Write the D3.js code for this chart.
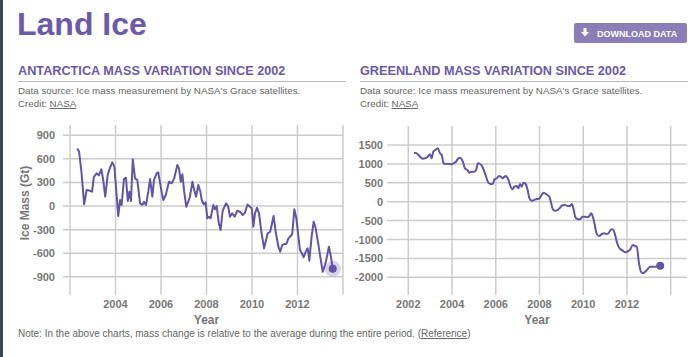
<!DOCTYPE html>
<html>
<head>
<meta charset="utf-8">
<script src="https://cdn.jsdelivr.net/npm/d3@7"></script>
<style>
  html, body { margin: 0; padding: 0; background: #fff; }
  svg { display: block; font-family: "Liberation Sans", Arial, Helvetica, sans-serif; }
</style>
</head>
<body>
<svg id="chart" width="700" height="357"></svg>
<script>
// ---------- DATA ----------
const antarcticaYears = [2002.32,2002.40,2002.51,2002.62,2002.73,2002.88,2002.97,2003.05,2003.17,2003.27,2003.38,2003.46,2003.55,2003.66,2003.76,2003.86,2003.95,2004.01,2004.12,2004.20,2004.27,2004.37,2004.46,2004.54,2004.61,2004.68,2004.76,2004.86,2004.96,2005.08,2005.18,2005.25,2005.34,2005.44,2005.52,2005.62,2005.69,2005.81,2005.88,2006.00,2006.10,2006.21,2006.35,2006.47,2006.58,2006.72,2006.79,2006.87,2006.94,2007.02,2007.11,2007.20,2007.27,2007.38,2007.46,2007.54,2007.64,2007.73,2007.79,2007.88,2007.96,2008.04,2008.11,2008.18,2008.30,2008.37,2008.45,2008.54,2008.62,2008.71,2008.86,2008.95,2009.03,2009.13,2009.24,2009.35,2009.47,2009.59,2009.69,2009.80,2009.91,2009.99,2010.06,2010.13,2010.22,2010.31,2010.40,2010.53,2010.62,2010.69,2010.80,2010.95,2011.04,2011.16,2011.24,2011.33,2011.42,2011.51,2011.60,2011.70,2011.77,2011.86,2011.95,2012.04,2012.11,2012.18,2012.27,2012.36,2012.45,2012.52,2012.62,2012.71,2012.80,2012.91,2013.00,2013.11,2013.21,2013.30,2013.38,2013.47,2013.55];
const antarcticaMass = [730,690,416,22,203,194,182,372,416,390,466,330,118,403,487,555,500,289,-127,76,13,343,360,64,182,64,594,352,330,34,13,55,13,182,343,118,330,416,428,225,76,140,309,289,352,521,479,309,403,182,-9,55,118,309,203,118,267,182,76,22,47,-156,-136,-156,13,-42,0,-220,-305,-60,34,0,-136,-93,-136,-60,-72,-114,-85,19,-9,-29,-263,-93,-22,-93,-305,-538,-432,-347,-327,-127,-327,-517,-581,-496,-483,-483,-411,-381,-356,-42,-156,-390,-559,-594,-652,-581,-538,-695,-390,-200,-283,-474,-644,-835,-750,-636,-517,-644,-797];

const greenlandYears = [2002.26,2002.38,2002.54,2002.66,2002.76,2002.87,2002.99,2003.07,2003.14,2003.27,2003.35,2003.45,2003.53,2003.60,2003.71,2003.83,2003.94,2004.06,2004.18,2004.29,2004.37,2004.44,2004.52,2004.59,2004.70,2004.79,2004.90,2005.01,2005.10,2005.18,2005.28,2005.39,2005.46,2005.56,2005.66,2005.77,2005.86,2005.94,2006.05,2006.15,2006.24,2006.32,2006.43,2006.50,2006.58,2006.65,2006.76,2006.85,2006.96,2007.03,2007.11,2007.19,2007.26,2007.37,2007.45,2007.54,2007.65,2007.75,2007.88,2007.98,2008.07,2008.18,2008.29,2008.38,2008.45,2008.53,2008.61,2008.71,2008.82,2008.94,2009.05,2009.17,2009.28,2009.40,2009.48,2009.55,2009.63,2009.73,2009.86,2009.96,2010.09,2010.19,2010.28,2010.36,2010.44,2010.51,2010.62,2010.73,2010.85,2010.96,2011.05,2011.15,2011.25,2011.34,2011.43,2011.51,2011.58,2011.69,2011.81,2011.92,2012.02,2012.15,2012.27,2012.38,2012.45,2012.54,2012.64,2012.73,2012.83,2012.94,2013.06,2013.17,2013.29,2013.40,2013.52];
const greenlandMass = [1296,1280,1190,1138,1148,1175,1254,1148,1323,1386,1413,1280,1237,1032,997,1005,989,1016,1058,1148,1164,1122,1016,884,839,767,794,794,839,1016,997,926,820,661,503,468,468,593,619,680,661,619,680,661,574,442,328,397,415,354,468,397,503,468,328,90,26,45,71,79,151,238,204,170,132,-26,-201,-238,-220,-159,-95,-87,-114,-114,-61,-175,-397,-458,-466,-397,-397,-413,-378,-307,-397,-571,-854,-907,-854,-836,-854,-836,-749,-730,-820,-1000,-1146,-1251,-1296,-1339,-1323,-1259,-1146,-1172,-1190,-1587,-1852,-1894,-1852,-1788,-1720,-1720,-1720,-1702,-1693];

const antarcticaYTicks = [900, 600, 300, 0, -300, -600, -900];
const greenlandYTicks = [1500, 1000, 500, 0, -500, -1000, -1500, -2000];
const antarcticaXTicks = [2002, 2004, 2006, 2008, 2010, 2012, 2014];
const antarcticaXLabels = [2004, 2006, 2008, 2010, 2012];
const greenlandXTicks = [2002, 2004, 2006, 2008, 2010, 2012, 2014];
const greenlandXLabels = [2002, 2004, 2006, 2008, 2010, 2012];

// ---------- STYLE ----------
const PURPLE = "#6b5aa8";
const LINE = "#6454a6";
const GRID = "#cccccc";
const TICKTXT = "#777777";
const TXT = "#666666";

const svg = d3.select("#chart");

// left dark border
svg.append("rect").attr("x", 0).attr("y", 0).attr("width", 3).attr("height", 357).attr("fill", "#3b4656");

// Page title
svg.append("text").attr("x", 17).attr("y", 35)
  .attr("font-size", 32).attr("font-weight", "bold").attr("fill", PURPLE)
  .text("Land Ice");

// Download button
const btn = svg.append("g");
btn.append("rect").attr("x", 574).attr("y", 23).attr("width", 113).attr("height", 20)
  .attr("rx", 2).attr("fill", "#8b7db8");
btn.append("path")
  .attr("d", "M583.5,28 h3 v4 h2.5 l-4,4.5 l-4,-4.5 h2.5 z")
  .attr("fill", "#fff");
btn.append("text").attr("x", 597).attr("y", 36.5)
  .attr("font-size", 9).attr("font-weight", "bold").attr("fill", "#fff")
  .text("DOWNLOAD DATA");

function header(x0, x1, title) {
  svg.append("text").attr("x", x0).attr("y", 75)
    .attr("font-size", 12.7).attr("font-weight", "bold").attr("fill", PURPLE)
    .text(title);
  svg.append("line").attr("x1", x0).attr("x2", x1).attr("y1", 81.5).attr("y2", 81.5)
    .attr("stroke", "#bbbbbb").attr("stroke-width", 1);
  svg.append("text").attr("x", x0).attr("y", 94)
    .attr("font-size", 9.8).attr("fill", TXT)
    .text("Data source: Ice mass measurement by NASA's Grace satellites.");
  const c = svg.append("text").attr("x", x0).attr("y", 107)
    .attr("font-size", 9.8).attr("fill", TXT);
  c.append("tspan").text("Credit: ");
  c.append("tspan").attr("text-decoration", "underline").text("NASA");
}
header(18, 346, "ANTARCTICA MASS VARIATION SINCE 2002");
header(360, 688, "GREENLAND MASS VARIATION SINCE 2002");

function drawChart(opt) {
  const g = svg.append("g");
  const x = d3.scaleLinear().domain(opt.xDomain).range(opt.xRange);
  const y = d3.scaleLinear().domain(opt.yDomain).range(opt.yRange);

  // horizontal grid
  g.selectAll(".hg").data(opt.yTicks).enter().append("line")
    .attr("x1", opt.gridLeft).attr("x2", opt.gridRight)
    .attr("y1", d => y(d)).attr("y2", d => y(d))
    .attr("stroke", GRID).attr("stroke-width", 1.5);
  // vertical grid
  g.selectAll(".vg").data(opt.xTicks).enter().append("line")
    .attr("x1", d => x(d)).attr("x2", d => x(d))
    .attr("y1", opt.yRange[1]).attr("y2", opt.yRange[0])
    .attr("stroke", GRID).attr("stroke-width", 1.5);

  // y tick labels
  g.selectAll(".yl").data(opt.yTicks).enter().append("text")
    .attr("x", opt.yLabelX).attr("y", d => y(d) + 4)
    .attr("text-anchor", "end").attr("font-size", 11).attr("font-weight", "bold")
    .attr("fill", TICKTXT).text(d => d);
  // x tick labels
  g.selectAll(".xl").data(opt.xLabels).enter().append("text")
    .attr("x", d => x(d)).attr("y", 308)
    .attr("text-anchor", "middle").attr("font-size", 11).attr("font-weight", "bold")
    .attr("fill", TICKTXT).text(d => d);
  // x axis title
  g.append("text").attr("x", (opt.gridLeft + opt.gridRight) / 2 + opt.titleShift).attr("y", 324)
    .attr("text-anchor", "middle").attr("font-size", 12).attr("font-weight", "bold")
    .attr("fill", TICKTXT).text("Year");

  const pts = opt.years.map((yr, i) => [yr, opt.values[i]]);
  const line = d3.line().x(d => x(d[0])).y(d => y(d[1])).curve(opt.curve);
  g.append("path").datum(pts).attr("d", line)
    .attr("fill", "none").attr("stroke", LINE).attr("stroke-width", 2)
    .attr("stroke-linejoin", "round");

  const last = pts[pts.length - 1];
  if (opt.halo) {
    g.append("circle").attr("cx", x(last[0])).attr("cy", y(last[1])).attr("r", 8)
      .attr("fill", LINE).attr("fill-opacity", 0.25);
  }
  g.append("circle").attr("cx", x(last[0])).attr("cy", y(last[1])).attr("r", 4)
    .attr("fill", LINE);
  return { x, y };
}

drawChart({
  years: antarcticaYears, values: antarcticaMass,
  xDomain: [2002, 2014], xRange: [70, 343],
  yDomain: [-1131, 1030], yRange: [295, 125],
  yTicks: antarcticaYTicks, xTicks: antarcticaXTicks, xLabels: antarcticaXLabels,
  gridLeft: 63, gridRight: 343, yLabelX: 55, titleShift: 3.5,
  curve: d3.curveLinear, halo: true
});

drawChart({
  years: greenlandYears, values: greenlandMass,
  xDomain: [2002, 2014], xRange: [408.3, 670.7],
  yDomain: [-2468, 2003], yRange: [295, 126],
  yTicks: greenlandYTicks, xTicks: greenlandXTicks, xLabels: greenlandXLabels,
  gridLeft: 387, gridRight: 687, yLabelX: 383, titleShift: 0,
  curve: d3.curveMonotoneX, halo: false
});

// y axis title (Antarctica)
svg.append("text").attr("transform", "translate(29,203) rotate(-90)")
  .attr("text-anchor", "middle").attr("font-size", 12).attr("font-weight", "bold")
  .attr("fill", TICKTXT).text("Ice Mass (Gt)");

// Note
const note = svg.append("text").attr("x", 18).attr("y", 337)
  .attr("font-size", 10).attr("fill", TXT);
note.append("tspan").text("Note: In the above charts, mass change is relative to the average during the entire period. (");
note.append("tspan").attr("text-decoration", "underline").text("Reference");
note.append("tspan").text(")");
</script>
</body>
</html>
